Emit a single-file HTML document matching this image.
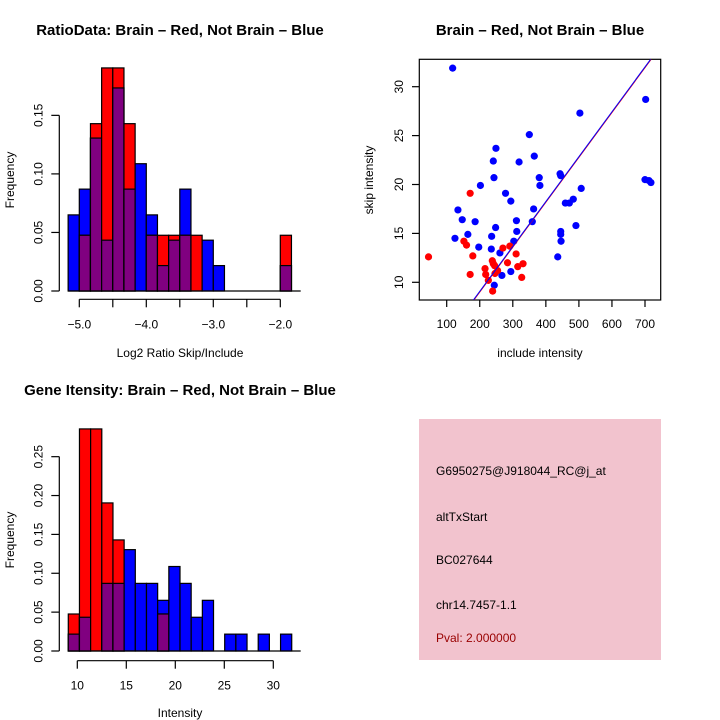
<!DOCTYPE html>
<html><head><meta charset="utf-8"><style>
body{margin:0;background:#fff}
svg{display:block;font-family:"Liberation Sans",sans-serif}
</style></head><body>
<svg id="s" width="720" height="720" viewBox="0 0 720 720">
<rect x="0" y="0" width="720" height="720" fill="#fff"/>
<text x="180" y="35" text-anchor="middle" font-weight="bold" font-size="15">RatioData: Brain – Red, Not Brain – Blue</text>
<text x="540" y="35" text-anchor="middle" font-weight="bold" font-size="15">Brain – Red, Not Brain – Blue</text>
<text x="180" y="395" text-anchor="middle" font-weight="bold" font-size="15">Gene Itensity: Brain – Red, Not Brain – Blue</text>
<text x="180" y="357" text-anchor="middle" font-size="12">Log2 Ratio Skip/Include</text>
<text x="180" y="717" text-anchor="middle" font-size="12">Intensity</text>
<text x="540" y="357" text-anchor="middle" font-size="12">include intensity</text>
<text transform="translate(14,180) rotate(-90)" text-anchor="middle" font-size="12">Frequency</text>
<text transform="translate(14,540) rotate(-90)" text-anchor="middle" font-size="12">Frequency</text>
<text transform="translate(373,180) rotate(-90)" text-anchor="middle" font-size="12">skip intensity</text>
<g>
<rect x="419" y="419" width="242" height="241" fill="#f2c3ce"/>
<text x="436" y="475" font-size="12">G6950275@J918044_RC@j_at</text>
<text x="436" y="521" font-size="12">altTxStart</text>
<text x="436" y="564" font-size="12">BC027644</text>
<text x="436" y="609" font-size="12">chr14.7457-1.1</text>
<text x="436" y="642" font-size="12" fill="#990000">Pval: 2.000000</text>
</g>
</svg>
<script>
// Ratio histogram data
const ratioBinStart = -5.1667;
const ratioBinWidth = 1/6;
const ratioBlue = [0.065,0.087,0.1306,0.0434,0.1734,0.087,0.1087,0.065,0.0217,0.0434,0.087,0,0.0434,0.0217,0,0,0,0,0,0.0217];
const ratioRed = [0,0.0476,0.1429,0.1905,0.1905,0.1429,0,0.0476,0.0476,0.0476,0.0476,0.0476,0,0,0,0,0,0,0,0.0476];
const ratioXTicks = [-5,-4.5,-4,-3.5,-3,-2.5,-2];
const ratioXLabels = ["−5.0","","−4.0","","−3.0","","−2.0"];
const ratioYTicks = [0,0.05,0.10,0.15];
const ratioYLabels = ["0.00","0.05","0.10","0.15"];
// Intensity histogram data
const intBinStart = 9.08;
const intBinWidth = 1.14;
const intBlue = [0.0217,0.0434,0,0.087,0.087,0.1304,0.087,0.087,0.0652,0.1087,0.087,0.0434,0.0652,0,0.0217,0.0217,0,0.0217,0,0.0217];
const intRed = [0.0476,0.2857,0.2857,0.1905,0.1429,0,0,0,0.0476,0,0,0,0,0,0,0,0,0,0,0];
const intXTicks = [10,15,20,25,30];
const intYTicks = [0,0.05,0.10,0.15,0.20,0.25];
const intYLabels = ["0.00","0.05","0.10","0.15","0.20","0.25"];
// Scatter data
const blueX = [118,125,134,147,164,186,197,202,236,235,241,243,249,248,244,261,267,278,294,294,303,311,312,319,350,359,363,365,380,382,436,443,445,445,445,446,459,471,483,491,503,507,702,700,712,718];
const blueY = [31.9,14.5,17.4,16.4,14.9,16.2,13.6,19.9,14.7,13.4,22.4,20.7,23.7,15.6,9.7,13.0,10.7,19.1,18.3,11.1,14.2,16.3,15.2,22.3,25.1,16.2,17.5,22.9,20.7,19.9,12.6,21.1,20.9,15.2,14.9,14.2,18.1,18.1,18.5,15.8,27.3,19.6,28.7,20.5,20.4,20.2];
const redX = [45,171,152,160,179,171,216,218,226,238,241,239,245,246,254,270,284,291,310,315,327,331];
const redY = [12.6,19.1,14.2,13.8,12.7,10.8,11.4,10.8,10.2,12.2,11.9,9.1,11.7,10.9,11.2,13.5,12.0,13.7,12.9,11.6,10.5,11.9];
const fitLine = [181,8.2,717,32.8];
const scXTicks = [100,200,300,400,500,600,700];
const scYTicks = [10,15,20,25,30];

const svg = document.getElementById('s');
const NS = 'http://www.w3.org/2000/svg';
function mk(tag, attrs, parent){const e=document.createElementNS(NS,tag);for(const k in attrs)e.setAttribute(k,attrs[k]);(parent||svg).appendChild(e);return e;}

function histogram(name, binStart, binW, blue, red, sx, sy, x0, baseX1, xTicks, xLabels, xAxisY, yTicks, yLabels, yAxisX){
  const g = mk('g',{});
  
  
  for(let i=0;i<blue.length;i++){
    const xa=sx(binStart+i*binW), xb=sx(binStart+(i+1)*binW);
    const b=blue[i], r=red[i], m=Math.min(b,r);
    const layers=[[b,'#0000ff','blue'],[r,'#ff0000','red'],[m,'#800080','overlap']];
    layers.forEach(([v,c,n])=>{
      if(v<=0) return;
      const rc = mk('rect',{x:xa,y:sy(v),width:xb-xa,height:sy(0)-sy(v),fill:c,stroke:'#000','stroke-width':1.2},g);
      
      
    });
  }
  const bl = mk('line',{x1:sx(binStart),x2:baseX1,y1:sy(0),y2:sy(0),stroke:'#000','stroke-width':1.2},g);
  
  
  const xa = mk('g',{},g);
  
  
  mk('line',{x1:sx(xTicks[0]),x2:sx(xTicks[xTicks.length-1]),y1:xAxisY,y2:xAxisY,stroke:'#000','stroke-width':1.2},xa);
  xTicks.forEach((t,i)=>{
    mk('line',{x1:sx(t),x2:sx(t),y1:xAxisY,y2:xAxisY+8,stroke:'#000','stroke-width':1.2},xa);
    const tx = mk('text',{x:sx(t),y:xAxisY+29,'text-anchor':'middle','font-size':12},xa);
    tx.textContent = xLabels ? xLabels[i] : String(t);
    
    
  });
  const ya = mk('g',{},g);
  
  
  mk('line',{x1:yAxisX,x2:yAxisX,y1:sy(yTicks[0]),y2:sy(yTicks[yTicks.length-1]),stroke:'#000','stroke-width':1.2},ya);
  yTicks.forEach((t,i)=>{
    mk('line',{x1:yAxisX-8,x2:yAxisX,y1:sy(t),y2:sy(t),stroke:'#000','stroke-width':1.2},ya);
    const tx = mk('text',{transform:`translate(${yAxisX-17},${sy(t)}) rotate(-90)`,'text-anchor':'middle','font-size':12},ya);
    tx.textContent = yLabels[i];
    
    
  });
}

const rsx = v => 79.3 + (v+5)*67;
const rsy = v => 291 - v*1171;
histogram('ratio-histogram', ratioBinStart, ratioBinWidth, ratioBlue, ratioRed, rsx, rsy, 0, 300.7, ratioXTicks, ratioXLabels, 299.3, ratioYTicks, ratioYLabels, 59.3);
const isx = v => 77.3 + (v-10)*9.8;
const isy = v => 651 - v*777.3;
histogram('intensity-histogram', intBinStart, intBinWidth, intBlue, intRed, isx, isy, 0, 300.7, intXTicks, null, 660.7, intYTicks, intYLabels, 59.3);

const ssx = v => 446.7 + (v-100)*0.3305;
const ssy = v => 282.3 - (v-10)*9.78;
const sg = mk('g',{});


const clip = mk('clipPath',{id:'pc'},sg);
mk('rect',{x:419.3,y:59.3,width:241.4,height:240.7},clip);
const frame = mk('rect',{x:419.3,y:59.3,width:241.4,height:240.7,fill:'none',stroke:'#000','stroke-width':1.2},sg);


blueX.forEach((x,i)=>{
  const c = mk('circle',{cx:ssx(x),cy:ssy(blueY[i]),r:3.6,fill:'#0000ff'},sg);
  
  
});
redX.forEach((x,i)=>{
  const c = mk('circle',{cx:ssx(x),cy:ssy(redY[i]),r:3.6,fill:'#ff0000'},sg);
  
  
});
const fl1 = mk('line',{x1:ssx(fitLine[0])+0.5,y1:ssy(fitLine[1]),x2:ssx(fitLine[2])+0.5,y2:ssy(fitLine[3]),stroke:'#ff0000','stroke-width':1,'clip-path':'url(#pc)'},sg);


const fl2 = mk('line',{x1:ssx(fitLine[0]),y1:ssy(fitLine[1]),x2:ssx(fitLine[2]),y2:ssy(fitLine[3]),stroke:'#0000ff','stroke-width':1,'clip-path':'url(#pc)'},sg);


scXTicks.forEach(t=>{
  mk('line',{x1:ssx(t),x2:ssx(t),y1:300,y2:307,stroke:'#000','stroke-width':1.2},sg);
  const tx = mk('text',{x:ssx(t),y:328,'text-anchor':'middle','font-size':12},sg);
  tx.textContent = String(t);
  
  
});
scYTicks.forEach(t=>{
  mk('line',{x1:412,x2:419.3,y1:ssy(t),y2:ssy(t),stroke:'#000','stroke-width':1.2},sg);
  const tx = mk('text',{transform:`translate(403,${ssy(t)}) rotate(-90)`,'text-anchor':'middle','font-size':12},sg);
  tx.textContent = String(t);
  
  
});
</script>
</body></html>
